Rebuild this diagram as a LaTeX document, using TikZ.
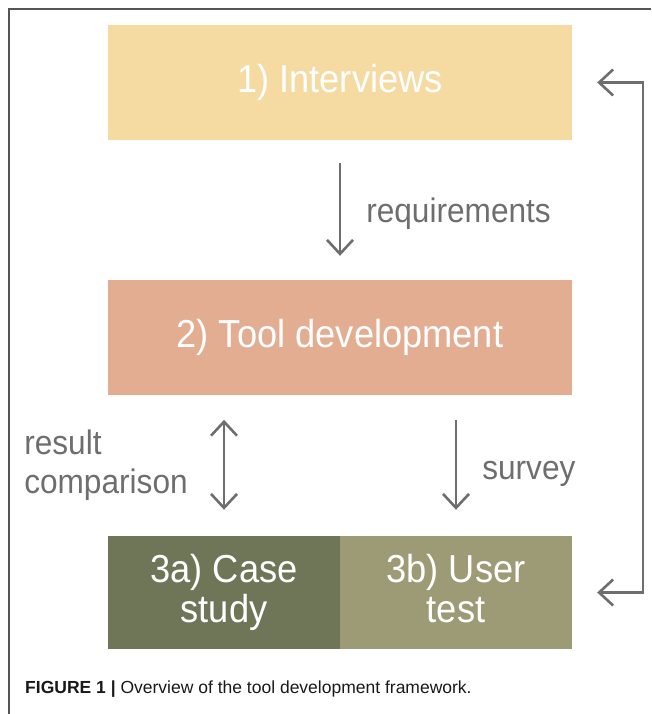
\documentclass[tikz,border=0pt]{standalone}
\usepackage{fontspec}
\setmainfont{Liberation Sans}
\newfontfamily\stepfont[FakeStretch=0.93]{Liberation Sans}
\usetikzlibrary{arrows.meta}
\definecolor{interviewcol}{HTML}{F5DBA2}
\definecolor{toolcol}{HTML}{E3AD92}
\definecolor{casecol}{HTML}{6F7658}
\definecolor{usercol}{HTML}{9C9B75}
\definecolor{arrowgray}{HTML}{6E6E6E}
\definecolor{framegray}{HTML}{555555}
\tikzset{
  stepbox/.style={fill=#1,text=white,inner sep=0pt,align=center,
    font=\stepfont\fontsize{39}{40}\selectfont},
  flowlabel/.style={text=arrowgray,inner sep=0pt,align=left,
    font=\stepfont\fontsize{34}{39}\selectfont},
  flow/.style={arrowgray,line width=2.6pt},
}
\begin{document}
\begin{tikzpicture}[x=1pt,y=-1pt,>={Straight Barb[length=14pt,width=26pt]}]
  \useasboundingbox (0,0) rectangle (651,714);
  \draw[framegray,line width=1.2pt] (9,714) -- (9,9) -- (651,9);
  % the three steps
  \node[stepbox=interviewcol,minimum width=464pt,minimum height=115pt] (interviews) at (340,82.5) {1) Interviews};
  \node[stepbox=toolcol,minimum width=464pt,minimum height=115pt] (tooldev) at (340,337.5) {2) Tool development};
  \node[stepbox=casecol,minimum width=232pt,minimum height=113pt] (casestudy) at (224,592.5) {3a) Case\\study};
  \node[stepbox=usercol,minimum width=232pt,minimum height=113pt] (usertest) at (456,592.5) {3b) User\\test\vphantom{y}};
  % connectors
  \draw[flow,->] ([yshift=-23pt]interviews.south) -- ([yshift=24pt]tooldev.north)
    node[midway,right=25pt,flowlabel,yshift=-4.5pt] (reqlabel) {requirements};
  \draw[flow,<->] ([yshift=116pt]casestudy.north) -- ([yshift=26pt]casestudy.north)
    node[midway,left=35pt,flowlabel] (complabel) {result\\comparison};
  \draw[flow,->] ([yshift=116pt]usertest.north) -- ([yshift=26pt]usertest.north)
    node[midway,right=25pt,flowlabel,yshift=-9pt] (surveylabel) {survey};
  \coordinate (loopcorner) at (643,592.5);
  \draw[flow,<->] ([xshift=25pt]usertest.east) -- (loopcorner) |- ([xshift=25pt]interviews.east);
  % caption
  \node[anchor=base west,inner sep=0pt,font=\fontsize{17.5}{20}\selectfont,text=black!90] (caption) at (25,693)
    {\textbf{FIGURE 1 |} Overview of the tool development framework.};
\end{tikzpicture}
\end{document}
